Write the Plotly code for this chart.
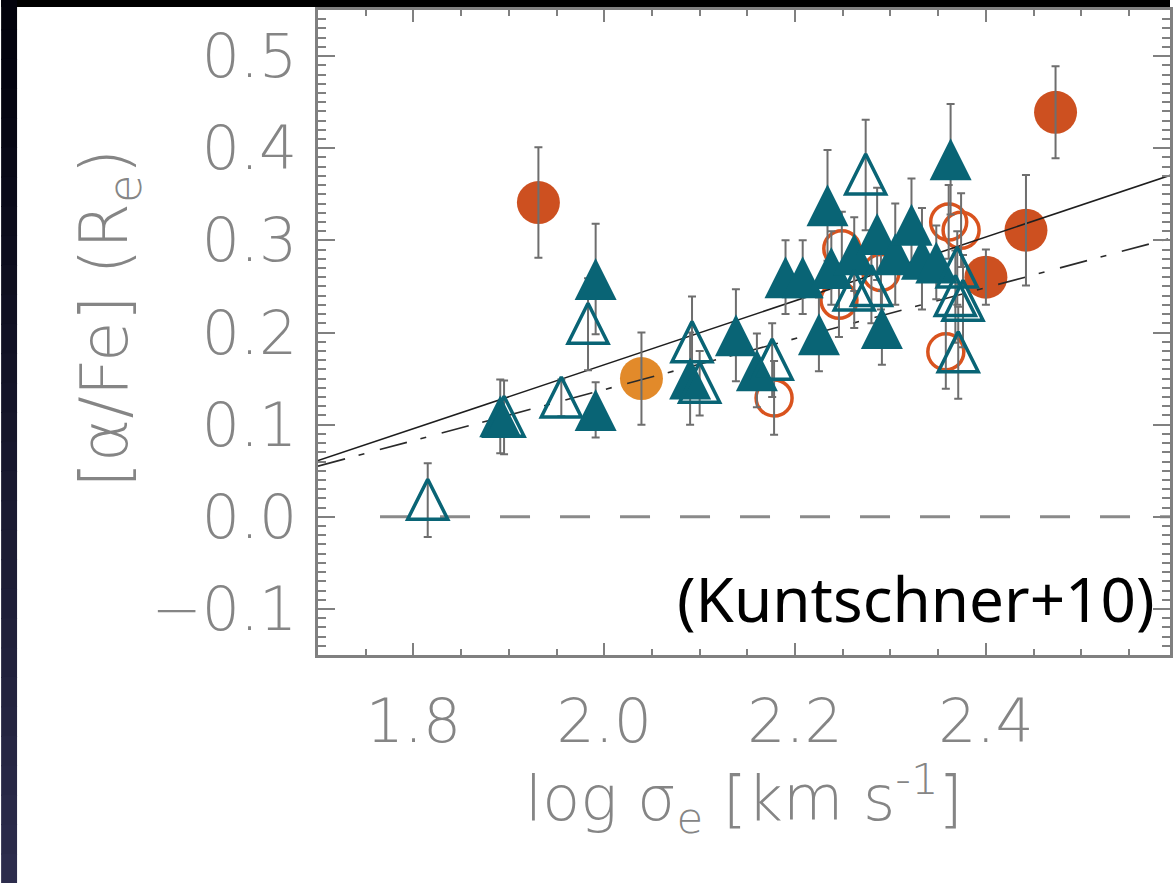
import plotly.graph_objects as go

# ---------------- data ----------------
# filled teal triangles
tri_f_x = [1.891, 1.991, 1.991, 2.090, 2.138, 2.160, 2.190, 2.208, 2.225, 2.234,
           2.238, 2.262, 2.286, 2.305, 2.322, 2.333, 2.291, 2.348, 2.363]
tri_f_y = [0.109, 0.258, 0.116, 0.150, 0.197, 0.159, 0.260, 0.260, 0.198, 0.338,
           0.270, 0.285, 0.307, 0.285, 0.317, 0.280, 0.205, 0.276, 0.388]
tri_f_e = [0.04, 0.06, 0.03, 0.05, 0.05, 0.04, 0.04, 0.04, 0.04, 0.06,
           0.04, 0.04, 0.05, 0.055, 0.05, 0.055, 0.04, 0.04, 0.06]

# open teal triangles
tri_o_x = [1.815, 1.895, 1.955, 1.983, 2.092, 2.100, 2.176, 2.262, 2.280, 2.274,
           2.370, 2.368, 2.376, 2.371]
tri_o_y = [0.018, 0.108, 0.129, 0.209, 0.189, 0.145, 0.170, 0.245, 0.250, 0.371,
           0.270, 0.239, 0.234, 0.178]
tri_o_e = [0.04, 0.04, 0.02, 0.05, 0.05, 0.035, 0.04, 0.04, 0.04, 0.06,
           0.04, 0.05, 0.05, 0.05]

# open red circles
circ_o_x = [2.178, 2.249, 2.246, 2.290, 2.361, 2.374, 2.358]
circ_o_y = [0.129, 0.291, 0.235, 0.265, 0.320, 0.311, 0.179]
circ_o_e = [0.04, 0.04, 0.04, 0.04, 0.04, 0.04, 0.04]

# filled red circles
circ_r_x = [1.931, 2.473, 2.442, 2.400]
circ_r_y = [0.341, 0.439, 0.311, 0.260]
circ_r_e = [0.06, 0.05, 0.06, 0.03]

# filled orange circle
circ_y_x = [2.039]
circ_y_y = [0.150]
circ_y_e = [0.05]

# fit lines and zero reference
fit_x = [1.7, 2.6]
fit_solid_y = [0.061, 0.373]
fit_dashdot_y = [0.055, 0.304]
zero_x = [1.765, 2.6]
zero_y = [0.0, 0.0]

x_ticks = [1.8, 2.0, 2.2, 2.4]
y_ticks = [-0.1, 0.0, 0.1, 0.2, 0.3, 0.4, 0.5]

# ---------------- layout geometry ----------------
W, H = 1173, 883
ML, MR, MT, MB = 318, 0, 10, 228
PW, PH = W - ML - MR, H - MT - MB
XR = [1.7, 1.7 + PW / 957.5]
YR = [-0.15, 0.55]

TEAL = "#096475"
RED = "#CD5020"
ORANGE = "#E28A2A"
GREY = "#808080"
ERR = "#6e6e6e"

TRI_F = 42
TRI_O = 40
# arrow-up markers have their apex at the data point; a shifted twin axis
# centres them on the point
shift = (TRI_F / 2) * (YR[1] - YR[0]) / PH


def px_x(px):
    return (px - ML) / PW


def px_y(py):
    return (H - MB - py) / PH


fig = go.Figure()

# zero line
fig.add_trace(go.Scatter(x=zero_x, y=zero_y, mode="lines",
                         line=dict(color="#8a8a8a", width=3, dash="30px,30px"),
                         hoverinfo="skip"))

# markers
fig.add_trace(go.Scatter(x=tri_f_x, y=tri_f_y, yaxis="y2", mode="markers",
                         marker=dict(symbol="arrow-up", size=TRI_F, color=TEAL,
                                     line=dict(width=0))))
fig.add_trace(go.Scatter(x=circ_o_x, y=circ_o_y, mode="markers",
                         marker=dict(symbol="circle-open", size=36,
                                     color="#D9531E", line=dict(width=3.5, color="#D9531E"))))
fig.add_trace(go.Scatter(x=tri_o_x, y=tri_o_y, yaxis="y2", mode="markers",
                         marker=dict(symbol="arrow-up-open", size=TRI_O, color=TEAL,
                                     line=dict(width=3.5, color=TEAL))))
fig.add_trace(go.Scatter(x=circ_r_x, y=circ_r_y, mode="markers",
                         marker=dict(symbol="circle", size=43, color=RED,
                                     line=dict(width=0))))
fig.add_trace(go.Scatter(x=circ_y_x, y=circ_y_y, mode="markers",
                         marker=dict(symbol="circle", size=43, color=ORANGE,
                                     line=dict(width=0))))

# fit lines
fig.add_trace(go.Scatter(x=fit_x, y=fit_solid_y, mode="lines",
                         line=dict(color="#1e1e1e", width=1.6)))
fig.add_trace(go.Scatter(x=fit_x, y=fit_dashdot_y, mode="lines",
                         line=dict(color="#2a2a2a", width=1.6,
                                   dash="28px,14px,6px,16px")))

# error bars (drawn over the symbols, as in the original)
for xs, ys, es in [(tri_f_x, tri_f_y, tri_f_e), (tri_o_x, tri_o_y, tri_o_e),
                   (circ_o_x, circ_o_y, circ_o_e), (circ_r_x, circ_r_y, circ_r_e),
                   (circ_y_x, circ_y_y, circ_y_e)]:
    fig.add_trace(go.Scatter(x=xs, y=ys, mode="markers",
                             marker=dict(size=1, color="rgba(0,0,0,0)"),
                             error_y=dict(type="data", array=es, visible=True,
                                          color=ERR, thickness=2, width=4)))

tickfont = dict(family="DejaVu Sans", size=60, color="#858585", weight=200)

fig.update_layout(
    width=W, height=H,
    margin=dict(l=ML, r=MR, t=MT, b=MB, pad=0),
    paper_bgcolor="white", plot_bgcolor="white",
    showlegend=False,
    xaxis=dict(range=XR, tickmode="array", tickvals=x_ticks,
               ticktext=[f"{v:.1f}" for v in x_ticks],
               ticks="inside", ticklen=12, tickwidth=2, tickcolor=GREY,
               showline=True, linecolor=GREY, linewidth=2.5, mirror="ticks",
               minor=dict(dtick=0.05, tick0=1.8, ticks="inside", ticklen=6,
                          tickwidth=1.5, tickcolor=GREY, showgrid=False),
               showgrid=False, zeroline=False, tickfont=tickfont,
               ticklabelstandoff=12),
    yaxis=dict(range=YR, tickmode="array", tickvals=y_ticks,
               ticktext=[f"{v:.1f}".replace("-", "\u2212") for v in y_ticks],
               ticks="inside", ticklen=17, tickwidth=2, tickcolor=GREY,
               showline=True, linecolor=GREY, linewidth=2.5, mirror="ticks",
               minor=dict(dtick=0.01, tick0=0, ticks="inside", ticklen=8,
                          tickwidth=1.5, tickcolor=GREY, showgrid=False),
               showgrid=False, zeroline=False, tickfont=tickfont,
               ticklabelstandoff=6),
    yaxis2=dict(range=[YR[0] - shift, YR[1] - shift], overlaying="y",
                visible=False, showgrid=False, zeroline=False),
)

annotations = [
    dict(text="(Kuntschner+10)", x=px_x(1160), y=px_y(598), xref="paper", yref="paper",
         xanchor="right", yanchor="middle", showarrow=False,
         font=dict(family="Noto Sans", size=62, color="black")),
    dict(text="[α/Fe] (R<sub>e</sub>)", x=px_x(108), y=px_y(318), xref="paper", yref="paper",
         xanchor="center", yanchor="middle", textangle=-90, showarrow=False,
         font=dict(family="DejaVu Sans", size=66, color="#858585", weight=200)),
    dict(text="log σ<sub>e</sub> [km s<sup>-1</sup>]", x=px_x(745), y=px_y(798),
         xref="paper", yref="paper", xanchor="center", yanchor="middle",
         showarrow=False,
         font=dict(family="DejaVu Sans", size=62, color="#858585", weight=200)),
]
fig.update_layout(annotations=annotations)

# slide background edges (black top strip and dark left strip with gradient)
shapes = [dict(type="rect", xref="paper", yref="paper",
               x0=px_x(0), x1=px_x(W), y0=px_y(7), y1=px_y(0),
               fillcolor="black", line=dict(width=0), layer="above")]
n_bands = 30
for i in range(n_bands):
    t = i / (n_bands - 1)
    r = int(2 + t * 42)
    g = int(2 + t * 42)
    b = int(12 + t * 64)
    y_top = i * H / n_bands
    y_bot = (i + 1) * H / n_bands + 1
    shapes.append(dict(type="rect", xref="paper", yref="paper",
                       x0=px_x(0), x1=px_x(16), y0=px_y(y_bot), y1=px_y(y_top),
                       fillcolor=f"rgb({r},{g},{b})", line=dict(width=0), layer="above"))
fig.update_layout(shapes=shapes)

fig.write_html("out.html")
